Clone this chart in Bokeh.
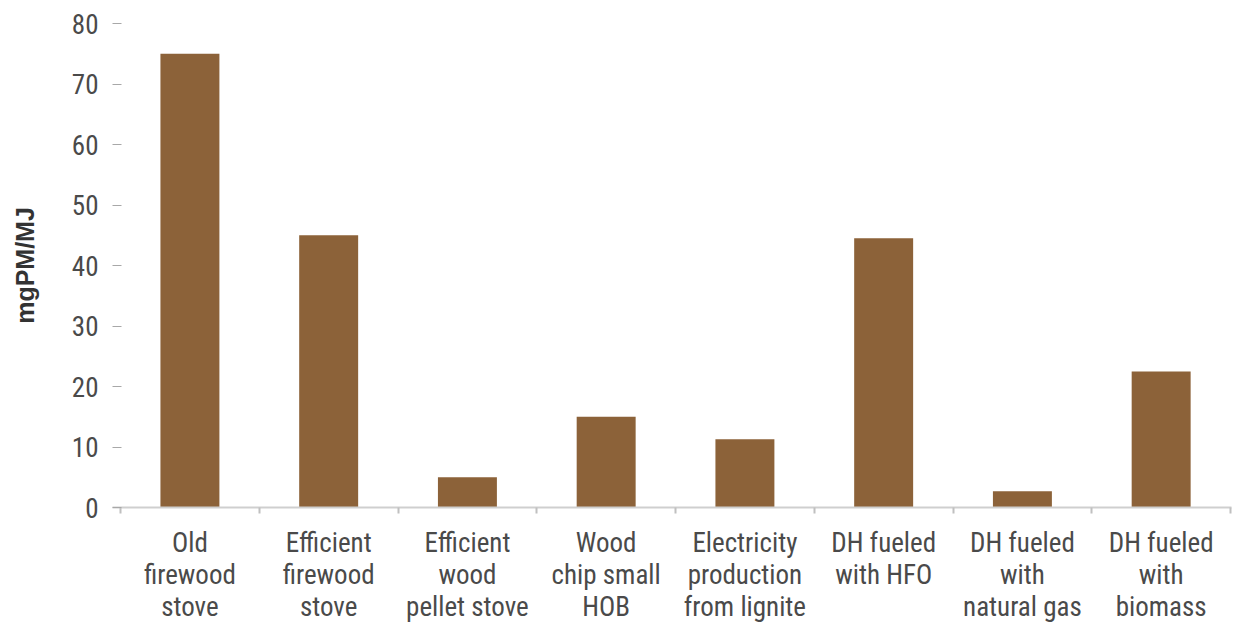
from bokeh.plotting import figure
from bokeh.models import Range1d, FixedTicker
from bokeh.embed import file_html
from bokeh.resources import INLINE

categories = [
    "Old\nfirewood\nstove",
    "Efficient\nfirewood\nstove",
    "Efficient\nwood\npellet stove",
    "Wood\nchip small\nHOB",
    "Electricity\nproduction\nfrom lignite",
    "DH fueled\nwith HFO",
    "DH fueled\nwith\nnatural gas",
    "DH fueled\nwith\nbiomass",
]
values = [75, 45, 5, 15, 11.3, 44.5, 2.7, 22.5]
y_ticks = [0, 10, 20, 30, 40, 50, 60, 70, 80]
y_label = "mgPM/MJ"

n = len(categories)
centers = [i + 0.5 for i in range(n)]
bounds = [float(i) for i in range(n + 1)]

FONT = "'Roboto Condensed', 'DejaVu Sans Condensed', sans-serif"
TXT = "#4a4a4a"

p = figure(width=1233, height=625, output_backend="svg", toolbar_location=None,
           x_range=Range1d(-0.058, 8.007), y_range=Range1d(0, 80),
           min_border_left=112, min_border_right=2, min_border_top=23, min_border_bottom=118)
p.outline_line_color = None
p.xgrid.visible = False
p.ygrid.visible = False
p.background_fill_color = "white"
p.border_fill_color = "white"

p.vbar(x=centers, top=values, bottom=0, width=0.425, fill_color="#8C6239", line_color=None)

# x axis
xa = p.xaxis[0]
xa.ticker = FixedTicker(ticks=centers, minor_ticks=bounds)
xa.major_label_overrides = {c: lab for c, lab in zip(centers, categories)}
xa.major_tick_out = 0
xa.major_tick_in = 0
xa.minor_tick_out = 6
xa.minor_tick_in = 0
xa.minor_tick_line_color = "#c0c0c0"
xa.minor_tick_line_width = 2
xa.axis_line_color = "#cfcfcf"
xa.axis_line_width = 2
xa.major_label_text_font = FONT
xa.major_label_text_font_size = "27px"
xa.major_label_text_color = TXT
xa.major_label_text_line_height = 1.0
xa.major_label_standoff = 13

# y axis
ya = p.yaxis[0]
ya.ticker = FixedTicker(ticks=y_ticks)
ya.axis_line_color = None
ya.major_tick_in = 9
ya.major_tick_out = 0
ya.major_tick_line_color = "#a8a8a8"
ya.major_tick_line_width = 1
ya.minor_tick_line_color = None
ya.major_label_text_font = FONT
ya.major_label_text_font_size = "27px"
ya.major_label_text_color = TXT
ya.major_label_standoff = 14
ya.axis_label = y_label
ya.axis_label_text_font = "Liberation Sans"
ya.axis_label_text_font_style = "bold"
ya.axis_label_text_font_size = "25px"
ya.axis_label_text_color = "#333333"
ya.axis_label_standoff = 30

open("out.html", "w").write(file_html(p, INLINE))
